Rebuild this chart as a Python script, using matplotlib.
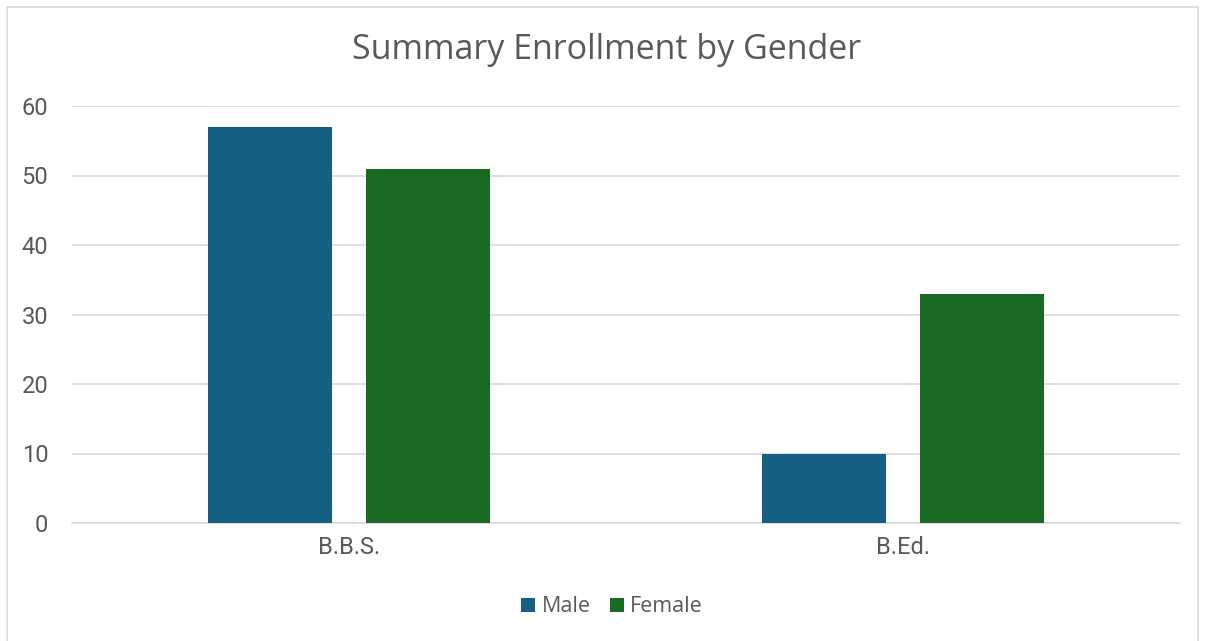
import numpy as np
import matplotlib
matplotlib.use("Agg")
import matplotlib.pyplot as plt
from matplotlib.patches import Rectangle

categories = ["B.B.S.", "B.Ed."]
male = [57, 10]
female = [51, 33]
series_names = ["Male", "Female"]

plt.rcParams['font.family'] = ['Open Sans', 'DejaVu Sans']

fig = plt.figure(figsize=(12.05, 6.41), dpi=100)
ax = fig.add_axes([72 / 1205, 1 - 523 / 641, (1180 - 72) / 1205, (523 - 106) / 641])

x = np.arange(len(categories))
w = 0.224
off = 0.1426
ax.bar(x - off, male, w, color='#156082', label=series_names[0], zorder=3)
ax.bar(x + off, female, w, color='#196B24', label=series_names[1], zorder=3)

ax.set_xlim(-0.5, len(categories) - 0.5)
ax.set_ylim(0, 60)
ax.set_yticks(np.arange(0, 61, 10))
ax.set_xticks(x)
ax.set_xticklabels(categories)
ax.yaxis.grid(True, color='#D9D9D9', linewidth=1.2, zorder=0)
ax.tick_params(length=0, labelsize=17, colors='#595959')
ax.tick_params(axis='y', pad=17)
ax.tick_params(axis='x', pad=9)
for lbl in ax.get_xticklabels() + ax.get_yticklabels():
    lbl.set_family(['Roboto', 'DejaVu Sans'])
for s in ['top', 'right', 'left']:
    ax.spines[s].set_visible(False)
ax.spines['bottom'].set_color('#D9D9D9')
ax.spines['bottom'].set_linewidth(1.2)

fig.text(0.5 + 4 / 1205, 1 - 50 / 641, "Summary Enrollment by Gender", ha='center', va='center',
         fontsize=24.5, color='#595959')

fig.legend(loc='center', bbox_to_anchor=(612 / 1205, 1 - 607 / 641), ncol=2, frameon=False,
           fontsize=15.5, labelcolor='#595959', handlelength=0.65, handleheight=0.65,
           handletextpad=0.3, columnspacing=0.9)

fig.patches.append(Rectangle((7 / 1205, -0.01), (1198 - 7) / 1205, 1 - 7 / 641 + 0.01,
                             transform=fig.transFigure, fill=False,
                             edgecolor='#D9D9D9', linewidth=1.2))

fig.savefig("out.png", dpi=100)
